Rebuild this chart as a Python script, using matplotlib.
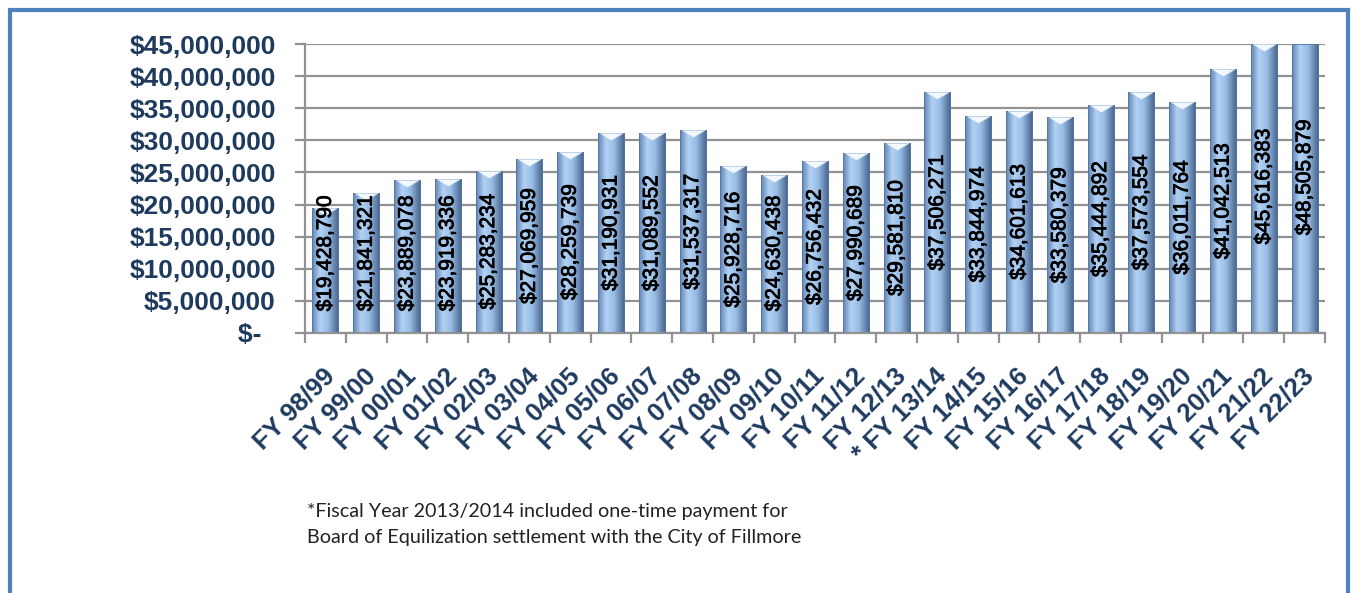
import numpy as np
import matplotlib
matplotlib.use("Agg")
import matplotlib.pyplot as plt
import matplotlib.patheffects as pe
from matplotlib.colors import LinearSegmentedColormap
from matplotlib.patches import Rectangle
from matplotlib.ticker import FuncFormatter, MultipleLocator
from matplotlib.transforms import ScaledTranslation

# ---------- data ----------
YEARS = ["FY 98/99", "FY 99/00", "FY 00/01", "FY 01/02", "FY 02/03", "FY 03/04",
         "FY 04/05", "FY 05/06", "FY 06/07", "FY 07/08", "FY 08/09", "FY 09/10",
         "FY 10/11", "FY 11/12", "FY 12/13", "* FY 13/14", "FY 14/15", "FY 15/16",
         "FY 16/17", "FY 17/18", "FY 18/19", "FY 19/20", "FY 20/21", "FY 21/22",
         "FY 22/23"]
REVENUE = [19428790, 21841321, 23889078, 23919336, 25283234, 27069959,
           28259739, 31190931, 31089552, 31537317, 25928716, 24630438,
           26756432, 27990689, 29581810, 37506271, 33844974, 34601613,
           33580379, 35444892, 37573554, 36011764, 41042513, 45616383,
           48505879]
Y_MAX = 45_000_000
FOOTNOTE = ["*Fiscal Year 2013/2014 included one-time payment for",
            "Board of Equilization settlement with the City of Fillmore"]

NAVY = "#1F3A5F"
GRID = "#929292"
FRAME = "#4F81BD"
LABEL_FLOOR = 12_400_000  # labels on short bars don't sink below this centre

plt.rcParams["font.family"] = ["Liberation Sans", "DejaVu Sans"]

# cylinder-like shading across each bar
bar_cmap = LinearSegmentedColormap.from_list(
  "cyl", [(0.0, "#6085B5"), (0.3, "#B3D2F4"), (0.6, "#98BCE5"), (1.0, "#44628B")])
grad = np.linspace(0, 1, 64).reshape(1, -1)

fig = plt.figure(figsize=(13.54, 5.93), dpi=100)
ax = fig.add_axes([305 / 1354, 1 - 333 / 593, 1020 / 1354, 289 / 593])

x = np.arange(len(YEARS))
shown = np.minimum(REVENUE, Y_MAX)
bars = ax.bar(x, shown, width=0.64, facecolor="none", edgecolor="#5877A0",
              linewidth=0.6, zorder=3)
for rect in bars:
  x0 = rect.get_x()
  im = ax.imshow(grad, extent=[x0, x0 + rect.get_width(), 0, rect.get_height()],
                 aspect="auto", cmap=bar_cmap, zorder=2.5, interpolation="bicubic")
  im.set_clip_path(rect)

# pale notch at the top of each cylinder (the tallest one is cut off without it)
notch = [(-1, 0), (1, 0), (0, -0.6)]
tops = [(xi, s) for xi, v, s in zip(x, REVENUE, shown) if v < Y_MAX * 1.05]
ax.plot([t[0] for t in tops], [t[1] for t in tops], linestyle="none",
        marker=notch, markersize=16.5, markerfacecolor="#F3F8FD",
        markeredgecolor="#C9DCF0", markeredgewidth=0.5, zorder=4)

heavy = [pe.withStroke(linewidth=0.6, foreground="black")]
for xi, v in zip(x, REVENUE):
  ax.text(xi, max(v / 2, LABEL_FLOOR), f"${v:,.0f}", rotation=90, ha="center",
          va="center", fontsize=15, color="black", zorder=5, clip_on=False,
          path_effects=heavy)

ax.set_xlim(-0.5, len(YEARS) - 0.5)
ax.set_ylim(0, Y_MAX)
ax.yaxis.set_major_locator(MultipleLocator(5_000_000))
ax.yaxis.set_major_formatter(FuncFormatter(lambda v, p: "$-  " if v == 0 else f"${v:,.0f}"))
ax.grid(axis="y", color=GRID, linewidth=1.6, zorder=0)
ax.set_axisbelow(True)

ax.set_xticks(x)
ax.set_xticklabels(YEARS, rotation=45, ha="right", rotation_mode="anchor")
ax.set_xticks(np.arange(-0.5, len(YEARS), 1), minor=True)
ax.tick_params(axis="x", which="major", length=0, pad=22, labelsize=18.5,
               labelcolor=NAVY)
ax.tick_params(axis="x", which="minor", length=7, width=1.6, color=GRID)
ax.tick_params(axis="y", length=7, width=1.6, color=GRID, pad=14, labelsize=19,
               labelcolor=NAVY)
shift = ScaledTranslation(-3 / 100, 0, fig.dpi_scale_trans)
for lab in ax.get_xticklabels():
  lab.set_fontweight("bold")
  lab.set_transform(lab.get_transform() + shift)
for lab in ax.get_yticklabels():
  lab.set_fontweight("bold")

for side in ("top", "right"):
  ax.spines[side].set_visible(False)
for side in ("left", "bottom"):
  ax.spines[side].set_color(GRID)
  ax.spines[side].set_linewidth(1.6)

# blue frame around the chart (bottom edge falls off the image)
fig.patches.append(Rectangle((10 / 1354, -0.1), 1338 / 1354, 1.1 - 10 / 593,
                             transform=fig.transFigure, fill=False,
                             edgecolor=FRAME, linewidth=3))

fig.text(307 / 1354, 1 - 517 / 593, FOOTNOTE[0], fontsize=14.2, family="Lato",
         color="#222222", va="baseline")
fig.text(307 / 1354, 1 - 543 / 593, FOOTNOTE[1], fontsize=14.2, family="Lato",
         color="#222222", va="baseline")

fig.savefig("out.png", dpi=100)
